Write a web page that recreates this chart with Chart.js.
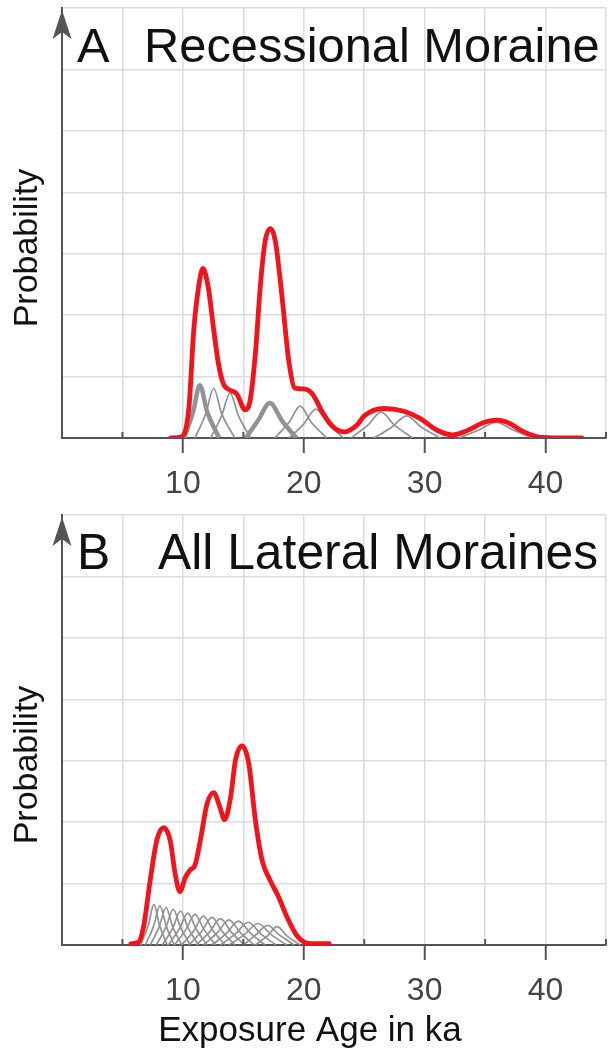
<!DOCTYPE html>
<html>
<head>
<meta charset="utf-8">
<title>Exposure ages</title>
<script src="https://cdn.jsdelivr.net/npm/chart.js@4.4.1/dist/chart.umd.min.js"></script>
<style>
  body { margin: 0; background: #fff; overflow: hidden; }
  canvas { position: absolute; left: 0; }
  #panelA { top: 0; }
  #panelB { top: 505px; }
</style>
</head>
<body>
<canvas id="panelA" width="609" height="505"></canvas>
<canvas id="panelB" width="609" height="550"></canvas>
<script>
const ageTicks = [10, 20, 30, 40];
const ageMax = 45;
const probMax = 7;

// A: recessional moraine, summed probability
const redAgeA = [9.0, 9.9, 10.5, 10.9, 11.3, 11.65, 12.1, 12.55, 12.95, 13.35, 13.9, 14.45, 15.15, 15.55,
  16.0, 16.4, 16.8, 17.25, 17.65, 18.2, 18.75, 19.3, 20.0, 20.7, 21.6, 22.45, 23.4, 24.4, 25.0,
  26.6, 28.2, 29.6, 31.0, 32.3, 33.5, 35.0, 36.0, 37.0, 38.2, 39.7, 43.0];
const redProbA = [0, 0.02, 0.5, 1.76, 2.46, 2.76, 2.45, 1.76, 1.2, 0.88, 0.78, 0.72, 0.46, 0.6,
  1.38, 2.46, 3.2, 3.41, 3.2, 2.3, 1.27, 0.81, 0.8, 0.72, 0.4, 0.18, 0.1, 0.21, 0.36,
  0.48, 0.44, 0.32, 0.13, 0.05, 0.12, 0.26, 0.29, 0.24, 0.1, 0.01, 0];

// A: individual sample ages
const grayAgeA = [
  [10.1, 10.85, 11.4, 12.0, 13.0],
  [11.0, 11.9, 12.55, 13.2, 14.3],
  [12.3, 13.2, 13.9, 14.6, 15.6],
  [15.2, 16.2, 17.2, 18.2, 19.4],
  [17.6, 18.8, 19.7, 20.6, 21.9],
  [18.8, 20.0, 21.0, 22.0, 23.3],
  [23.9, 25.3, 26.4, 27.5, 29.0],
  [25.8, 27.3, 28.5, 29.7, 31.3],
  [32.8, 34.5, 35.9, 37.3, 39.0]
];
const grayProbA = [
  [0, 0.43, 0.86, 0.43, 0],
  [0, 0.4, 0.81, 0.4, 0],
  [0, 0.36, 0.73, 0.36, 0],
  [0, 0.28, 0.57, 0.28, 0],
  [0, 0.26, 0.52, 0.26, 0],
  [0, 0.23, 0.47, 0.23, 0],
  [0, 0.21, 0.42, 0.21, 0],
  [0, 0.18, 0.36, 0.18, 0],
  [0, 0.13, 0.26, 0.13, 0]
];
const heavyA = [0, 3];

// B: all lateral moraines, summed probability
const redAgeB = [5.7, 6.35, 6.75, 7.3, 7.85, 8.4, 8.95, 9.35, 9.75, 10.2, 10.6, 11.0, 11.45, 12.0,
  12.55, 13.05, 13.45, 13.95, 14.35, 14.9, 15.45, 16.0, 16.55, 17.2, 17.9, 18.6, 19.3, 20.0, 20.8, 22.1];
const redProbB = [0.02, 0.05, 0.3, 1.06, 1.71, 1.91, 1.7, 1.17, 0.87, 1.1, 1.22, 1.3, 1.71, 2.3,
  2.48, 2.25, 2.04, 2.41, 3.01, 3.24, 2.95, 2.03, 1.38, 1.06, 0.79, 0.46, 0.19, 0.05, 0.02, 0.02];

// B: individual sample ages
const grayAgeB = [
  [6.5, 7.15, 7.6, 8.05, 8.7],
  [6.9, 7.6, 8.1, 8.6, 9.3],
  [7.3, 8.05, 8.6, 9.15, 9.9],
  [7.8, 8.6, 9.2, 9.8, 10.6],
  [8.3, 9.15, 9.8, 10.45, 11.3],
  [8.8, 9.7, 10.4, 11.1, 12.0],
  [9.3, 10.25, 11.0, 11.75, 12.7],
  [9.9, 10.9, 11.7, 12.5, 13.5],
  [10.5, 11.55, 12.4, 13.25, 14.3],
  [11.1, 12.2, 13.1, 14.0, 15.1],
  [11.7, 12.85, 13.8, 14.75, 15.9],
  [12.4, 13.6, 14.6, 15.6, 16.8],
  [13.1, 14.35, 15.4, 16.45, 17.7],
  [13.8, 15.1, 16.2, 17.3, 18.6],
  [15.0, 16.0, 17.0, 18.0, 19.2],
  [16.0, 17.0, 17.8, 18.6, 19.7]
];
const grayProbB = [
  [0, 0.33, 0.66, 0.33, 0],
  [0, 0.32, 0.64, 0.32, 0],
  [0, 0.3, 0.61, 0.3, 0],
  [0, 0.29, 0.58, 0.29, 0],
  [0, 0.27, 0.55, 0.27, 0],
  [0, 0.26, 0.52, 0.26, 0],
  [0, 0.25, 0.5, 0.25, 0],
  [0, 0.23, 0.47, 0.23, 0],
  [0, 0.22, 0.45, 0.22, 0],
  [0, 0.21, 0.43, 0.21, 0],
  [0, 0.2, 0.41, 0.2, 0],
  [0, 0.19, 0.39, 0.19, 0],
  [0, 0.18, 0.37, 0.18, 0],
  [0, 0.17, 0.35, 0.17, 0],
  [0, 0.16, 0.32, 0.16, 0],
  [0, 0.15, 0.3, 0.15, 0]
];
const heavyB = [];

const FONT = '"Liberation Sans", Arial, Helvetica, sans-serif';
const AXIS = '#555555';
const GRID = '#dcdcdc';

const toPoints = (xs, ys) => xs.map((x, i) => ({x: x, y: ys[i]}));

// arrow on the y axis, minor ticks, panel title, y label and x label
const panelDecor = {
  id: 'panelDecor',
  afterDraw(chart, args, opts) {
    const ctx = chart.ctx;
    const a = chart.chartArea;
    const x = chart.scales.x;
    ctx.save();

    ctx.strokeStyle = AXIS;
    ctx.lineWidth = 2;
    x.ticks.forEach(t => {
      if (t.value > 0 && !ageTicks.includes(t.value)) {
        const px = x.getPixelForValue(t.value);
        ctx.beginPath();
        ctx.moveTo(px, a.bottom);
        ctx.lineTo(px, a.bottom - 6);
        ctx.stroke();
      }
    });

    const ax = a.left;
    const tip = a.top + 2;
    ctx.fillStyle = AXIS;
    ctx.beginPath();
    ctx.moveTo(ax, tip);
    ctx.lineTo(ax + 9.5, tip + 29);
    ctx.lineTo(ax, tip + 22);
    ctx.lineTo(ax - 9.5, tip + 29);
    ctx.closePath();
    ctx.fill();

    ctx.fillStyle = '#111';
    ctx.font = opts.titleSize + 'px ' + FONT;
    ctx.textBaseline = 'alphabetic';
    ctx.textAlign = 'left';
    ctx.fillText(opts.letter, a.left + 15, a.top + 54);
    ctx.fillText(opts.title, a.left + opts.titleShift, a.top + 54);

    if (opts.xTitle) {
      ctx.font = '35px ' + FONT;
      ctx.textAlign = 'center';
      ctx.fillText(opts.xTitle, 310, a.bottom + 96);
    }

    ctx.translate(28, a.top + opts.labelShift);
    ctx.rotate(-Math.PI / 2);
    ctx.font = '34px ' + FONT;
    ctx.textAlign = 'center';
    ctx.textBaseline = 'middle';
    ctx.fillText('Probability', 0, 0);
    ctx.restore();
  }
};

function makePanel(id, letter, title, titleSize, titleShift, labelShift, redAge, redProb, grayAge, grayProb, heavy, padTop, xHeight, xTitle) {
  const datasets = [{
    data: toPoints(redAge, redProb),
    borderColor: '#f2131c',
    borderWidth: 4.8,
    pointRadius: 0,
    fill: false,
    cubicInterpolationMode: 'monotone',
    borderCapStyle: 'round'
  }];
  grayAge.forEach((xs, i) => {
    datasets.push({
      data: toPoints(xs, grayProb[i]),
      borderColor: '#929292',
      borderWidth: heavy.includes(i) ? 4.5 : 1.7,
      pointRadius: 0,
      fill: false,
      cubicInterpolationMode: 'monotone'
    });
  });

  return new Chart(document.getElementById(id), {
    type: 'line',
    data: {datasets: datasets},
    plugins: [panelDecor],
    options: {
      responsive: false,
      animation: false,
      events: [],
      devicePixelRatio: 1,
      layout: {padding: {top: padTop, left: 62, right: 3, bottom: 0}},
      plugins: {
        legend: {display: false},
        tooltip: {enabled: false},
        panelDecor: {
          letter: letter, title: title, titleSize: titleSize, titleShift: titleShift,
          labelShift: labelShift, xTitle: xTitle
        }
      },
      scales: {
        x: {
          type: 'linear',
          min: 0,
          max: ageMax,
          afterFit: s => {
            s.height = xHeight;
            s.paddingLeft = 0;
            s.paddingRight = 0;
          },
          ticks: {
            stepSize: 5,
            autoSkip: false,
            maxRotation: 0,
            padding: 12,
            color: '#444',
            font: {size: 32, family: FONT},
            callback: v => ageTicks.includes(v) ? String(v) : ''
          },
          grid: {
            color: GRID,
            lineWidth: 1.5,
            drawTicks: true,
            tickLength: 15,
            tickWidth: 2,
            tickColor: c => ageTicks.includes(c.tick.value) ? AXIS : 'rgba(0,0,0,0)'
          },
          border: {color: AXIS, width: 2}
        },
        y: {
          min: 0,
          max: probMax,
          afterFit: s => { s.width = 0; },
          ticks: {stepSize: 1, display: false},
          grid: {color: GRID, lineWidth: 1.5, drawTicks: false},
          border: {color: AXIS, width: 2}
        }
      }
    }
  });
}

makePanel('panelA', 'A', 'Recessional Moraine', 48.8, 82, 240, redAgeA, redProbA, grayAgeA, grayProbA, heavyA, 8, 67, '');
makePanel('panelB', 'B', 'All Lateral Moraines', 49.8, 96, 250, redAgeB, redProbB, grayAgeB, grayProbB, heavyB, 10, 110, 'Exposure Age in ka');
</script>
</body>
</html>
